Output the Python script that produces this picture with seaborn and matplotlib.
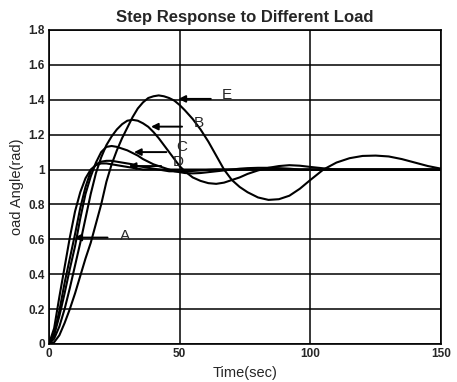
import pandas as pd
import numpy as np
import matplotlib
matplotlib.use('Agg')
import matplotlib.pyplot as plt
import seaborn as sns

# time samples (sec)
time = [0, 2, 4, 6, 8, 10, 12, 14, 16, 18, 20, 22, 24, 26, 28, 30, 32, 34, 36, 38,
        40, 42, 44, 46, 48, 50, 52, 55, 58, 61, 64, 67, 70, 73, 76, 80, 84, 88, 92, 96,
        100, 105, 110, 115, 120, 125, 130, 135, 140, 145, 150]

# load angle (rad) for each load case
load_a = [0, 0.09, 0.27, 0.44, 0.61, 0.76, 0.87, 0.95, 1.0, 1.025, 1.035, 1.035, 1.03, 1.025, 1.02, 1.015, 1.01, 1.005, 1.0, 1.0,
          1.0, 1.0, 1.0, 1.0, 1.0, 1.0, 1.0, 1.0, 1.0, 1.0, 1.0, 1.0, 1.0, 1.0, 1.0, 1.0, 1.0, 1.0, 1.0, 1.0,
          1.0, 1.0, 1.0, 1.0, 1.0, 1.0, 1.0, 1.0, 1.0, 1.0, 1.0]
load_d = [0, 0.06, 0.19, 0.35, 0.49, 0.63, 0.78, 0.9, 0.99, 1.03, 1.045, 1.05, 1.05, 1.045, 1.04, 1.035, 1.03, 1.02, 1.015, 1.01,
          1.005, 1.0, 0.995, 0.99, 0.99, 0.99, 0.99, 0.992, 0.995, 0.998, 1.0, 1.0, 1.0, 1.0, 1.0, 1.0, 1.0, 1.0, 1.0, 1.0,
          1.0, 1.0, 1.0, 1.0, 1.0, 1.0, 1.0, 1.0, 1.0, 1.0, 1.0]
load_c = [0, 0.05, 0.16, 0.29, 0.43, 0.56, 0.72, 0.86, 0.96, 1.04, 1.1, 1.13, 1.135, 1.13, 1.12, 1.11, 1.095, 1.08, 1.06, 1.045,
          1.03, 1.02, 1.01, 1.0, 0.99, 0.985, 0.98, 0.978, 0.98, 0.985, 0.99, 0.995, 1.0, 1.005, 1.008, 1.01, 1.01, 1.008, 1.005, 1.0,
          1.0, 1.0, 1.0, 1.0, 1.0, 1.0, 1.0, 1.0, 1.0, 1.0, 1.0]
load_b = [0, 0.03, 0.1, 0.2, 0.32, 0.45, 0.58, 0.72, 0.86, 0.98, 1.07, 1.14, 1.19, 1.23, 1.26, 1.28, 1.285, 1.28, 1.265, 1.245,
          1.215, 1.18, 1.14, 1.1, 1.06, 1.02, 0.99, 0.955, 0.935, 0.922, 0.918, 0.925, 0.94, 0.955, 0.975, 0.995, 1.01, 1.02, 1.025, 1.022,
          1.015, 1.007, 1.0, 1.0, 1.0, 1.0, 1.0, 1.0, 1.0, 1.0, 1.0]
load_e = [0, 0.01, 0.05, 0.12, 0.2, 0.29, 0.39, 0.49, 0.58, 0.69, 0.8, 0.93, 1.03, 1.11, 1.18, 1.24, 1.3, 1.35, 1.385, 1.41,
          1.42, 1.425, 1.42, 1.41, 1.395, 1.37, 1.34, 1.29, 1.23, 1.16, 1.08, 1.0, 0.94, 0.9, 0.87, 0.84, 0.826, 0.83, 0.85, 0.89,
          0.94, 1.0, 1.04, 1.065, 1.078, 1.08, 1.075, 1.06, 1.04, 1.02, 1.005]

curves = {'A': load_a, 'D': load_d, 'C': load_c, 'B': load_b, 'E': load_e}

df = pd.concat([pd.DataFrame({'time': time, 'angle': v, 'load': k}) for k, v in curves.items()])

sns.set_style('white')
plt.rcParams['font.family'] = ['Liberation Sans', 'DejaVu Sans']

fig = plt.figure(figsize=(4.57, 3.82), dpi=100)
ax = fig.add_axes([0.107, 0.0995, 0.858, 0.822])

sns.lineplot(data=df, x='time', y='angle', hue='load', palette={k: 'black' for k in curves},
             legend=False, linewidth=1.5, ax=ax)

ax.set_xlim(0, 150)
ax.set_ylim(0, 1.8)
ax.set_xticks([0, 50, 100, 150])
ax.set_yticks([0, 0.2, 0.4, 0.6, 0.8, 1.0, 1.2, 1.4, 1.6, 1.8])
ax.set_yticklabels(['0', '0.2', '0.4', '0.6', '0.8', '1', '1.2', '1.4', '1.6', '1.8'])
ax.grid(True, color='black', linewidth=1.1)
ax.tick_params(direction='in', length=3, labelsize=8.5, pad=3)
for lab in ax.get_xticklabels() + ax.get_yticklabels():
    lab.set_fontweight('bold')
for s in ax.spines.values():
    s.set_color('black')
    s.set_linewidth(1.2)

ax.set_title('Step Response to Different Load', fontsize=12, fontweight='bold', pad=6)
ax.set_xlabel('Time(sec)', fontsize=10.5, labelpad=4)
ax.set_ylabel('oad Angle(rad)', fontsize=10.5, labelpad=3)

# labels with arrows pointing to each curve
arrow = dict(arrowstyle='-|>', color='black', lw=1.4, mutation_scale=10)
notes = [('E', (48.5, 1.405), (63, 1.405), (68, 1.425)),
         ('B', (38, 1.246), (52, 1.246), (57.5, 1.265)),
         ('C', (31.5, 1.10), (46, 1.10), (51, 1.13)),
         ('D', (29.5, 1.02), (44, 1.02), (49.3, 1.045)),
         ('A', (8.7, 0.61), (23.5, 0.61), (29, 0.62))]
for name, head, tail, txt in notes:
    ax.annotate('', xy=head, xytext=tail, arrowprops=arrow)
    ax.text(txt[0], txt[1], name, fontsize=11, ha='center', va='center')

fig.savefig('out.png', dpi=100)
